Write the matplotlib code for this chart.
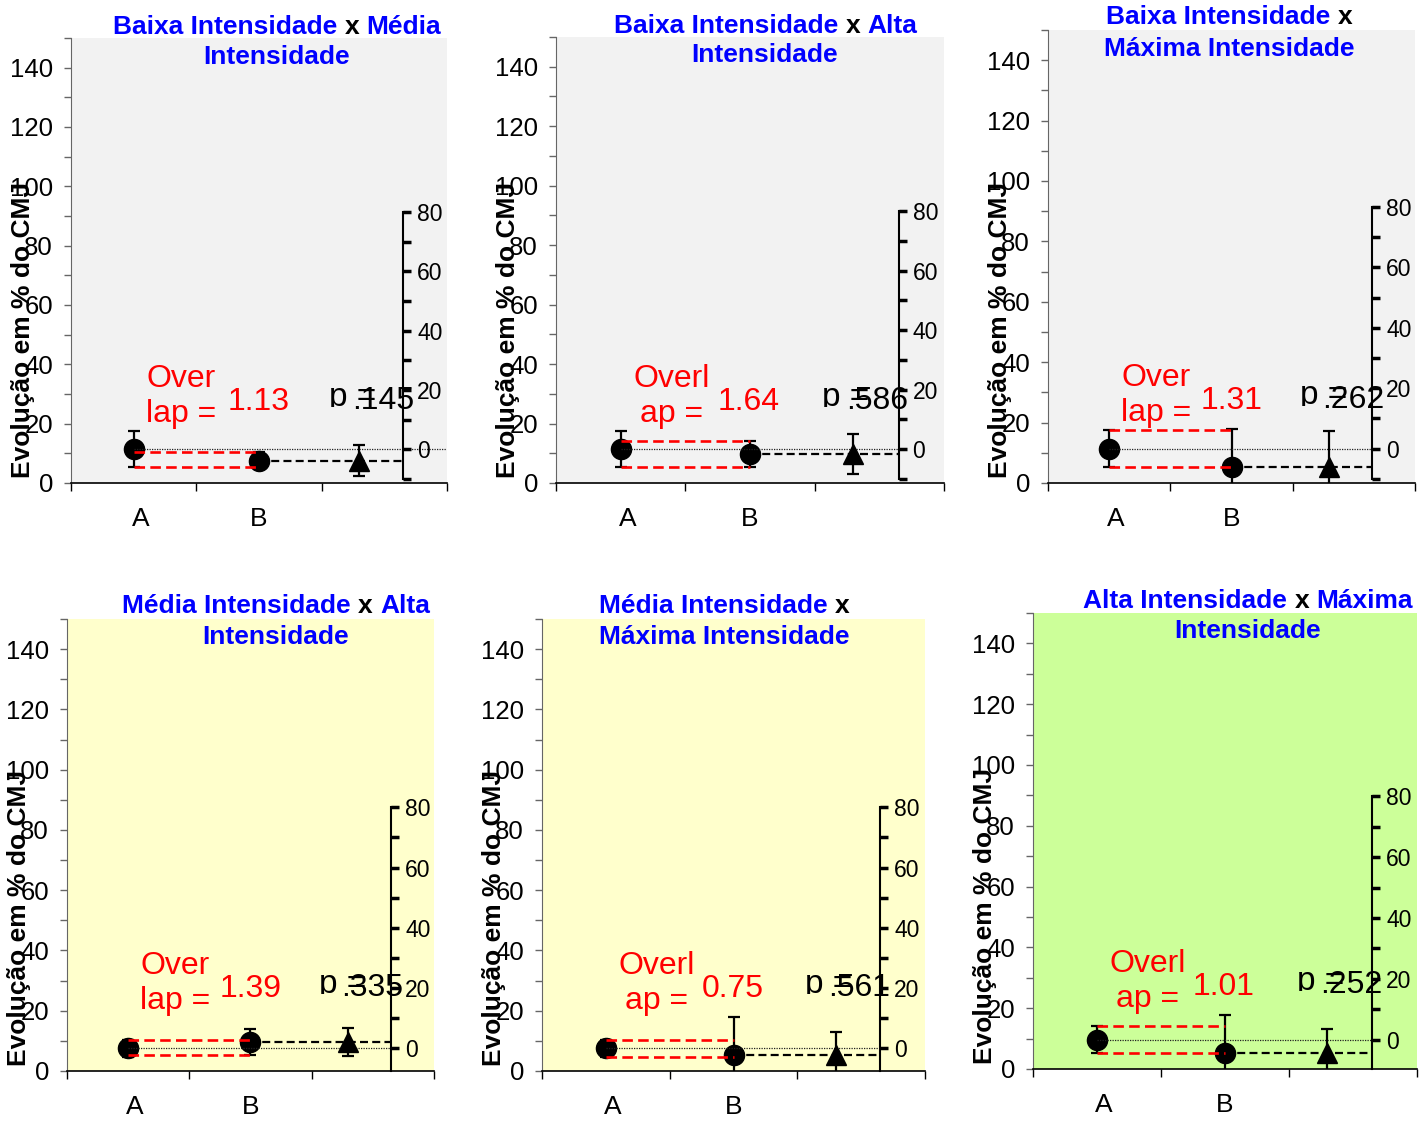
import matplotlib
matplotlib.use("Agg")
import matplotlib.pyplot as plt
from matplotlib.ticker import MultipleLocator, FixedLocator
from matplotlib.transforms import Bbox, TransformedBbox
from matplotlib.font_manager import FontProperties

plt.rcParams['font.family'] = ['Liberation Sans', 'DejaVu Sans']

# valores (media e meia-largura do IC)
a_mean = [11.4, 11.4, 11.4, 7.5, 7.5, 9.7]
a_ci = [6.1, 6.1, 6.1, 2.9, 2.9, 4.3]
b_mean = [7.5, 9.7, 5.3, 9.7, 5.3, 5.3]
b_ci = [2.9, 4.3, 12.5, 4.3, 12.5, 12.5]
diff_mean = [-3.9, -1.7, -6.1, 2.2, -2.2, -4.4]
diff_ci = [5.3, 6.7, 11.8, 4.7, 7.8, 8.0]

overlap_txt = ["Over\nlap =", "Overl\nap =", "Over\nlap =",
               "Over\nlap =", "Overl\nap =", "Overl\nap ="]
overlap_val = ["1.13", "1.64", "1.31", "1.39", "0.75", "1.01"]
p_val = [".145", ".586", ".262", ".335", ".561", ".252"]

categories = ["A", "B"]
left_ticks = [0, 20, 40, 60, 80, 100, 120, 140]
diff_ticks = [0, 20, 40, 60, 80]
diff_minor = [-10, 10, 30, 50, 70]

BLUE = '#0000FF'
titles = [
    [[("Baixa Intensidade", BLUE), (" x ", 'black'), ("Média", BLUE)], [("Intensidade", BLUE)]],
    [[("Baixa Intensidade", BLUE), (" x ", 'black'), ("Alta", BLUE)], [("Intensidade", BLUE)]],
    [[("Baixa Intensidade", BLUE), (" x", 'black')], [("Máxima Intensidade", BLUE)]],
    [[("Média Intensidade", BLUE), (" x ", 'black'), ("Alta", BLUE)], [("Intensidade", BLUE)]],
    [[("Média Intensidade", BLUE), (" x", 'black')], [("Máxima Intensidade", BLUE)]],
    [[("Alta Intensidade", BLUE), (" x ", 'black'), ("Máxima", BLUE)], [("Intensidade", BLUE)]],
]

# layout em pixels: (esq, topo, dir, base)
boxes = [(71, 38, 447, 483), (556, 37, 944, 483), (1048, 30, 1415, 483),
         (67, 619, 434, 1071), (542, 619, 925, 1071), (1033, 613, 1417, 1069)]
title_pos = [(277, 25, 54.5), (765, 23.5, 53), (1229, 15, 46),
             (275.5, 603.5, 634.5), (724, 603.5, 634.5), (1248, 598, 628)]
bg = ['#F2F2F2', '#F2F2F2', '#F2F2F2', '#FFFFCC', '#FFFFCC', '#CCFF99']
dotted_end = [3.0, 2.65, 2.65, 2.65, 2.65, 2.65]
X2 = 2.65

W, H = 1428, 1123
fig = plt.figure(figsize=(W / 100, H / 100), dpi=100)
renderer = fig.canvas.get_renderer()
tprop = FontProperties(family=['Liberation Sans'], size=19, weight='bold')


def text_w(s):
    w1 = renderer.get_text_width_height_descent('|' + s + '|', tprop, ismath=False)[0]
    w0 = renderer.get_text_width_height_descent('||', tprop, ismath=False)[0]
    return w1 - w0


def draw_title_line(cx, cy, pieces):
    full = ''.join(p for p, c in pieces)
    x0 = cx - text_w(full.strip()) / 2
    pos = 0
    for s, c in pieces:
        lead = len(s) - len(s.lstrip())
        x = x0 + (text_w(full[:pos + lead]) if pos + lead > 0 else 0)
        fig.text(x / W, 1 - (cy + 9.5) / H, s.strip(), color=c,
                 fontproperties=tprop, ha='left', va='baseline')
        pos += len(s)


for i in range(6):
    l, t, r, b = boxes[i]
    ax = fig.add_axes([l / W, 1 - b / H, (r - l) / W, (b - t) / H])
    ax.set_facecolor(bg[i])
    ax.set_xlim(0, 3)
    ax.set_ylim(0, 150)
    ax.spines['top'].set_visible(False)
    ax.spines['right'].set_visible(False)
    ax.spines['left'].set_color('#666666')
    ax.spines['bottom'].set_color('black')
    ax.spines['bottom'].set_linewidth(1.2)

    ax.set_yticks(left_ticks)
    ax.yaxis.set_minor_locator(MultipleLocator(10))
    ax.tick_params(axis='y', which='both', direction='out', length=5, width=1,
                   color='#666666', labelsize=18.5, pad=8)
    ax.set_xticks([0.555, 1.5])
    ax.set_xticklabels(categories)
    ax.set_xticks([0, 1, 2, 3], minor=True)
    ax.tick_params(axis='x', which='major', length=0, labelsize=19, pad=17)
    ax.tick_params(axis='x', which='minor', direction='out', length=6, width=1, color='black')

    a, b_ = a_mean[i], b_mean[i]
    lo = max(a - a_ci[i], b_ - b_ci[i])
    hi = min(a + a_ci[i], b_ + b_ci[i])

    ax.plot([1.5, X2], [b_, b_], color='black', lw=1.6, dashes=(3.6, 1.9), zorder=2)
    ax.errorbar([0.5, 1.5], [a, b_], yerr=[a_ci[i], b_ci[i]], fmt='o', color='black',
                ms=14.5, capsize=4, elinewidth=1.6, capthick=1.6, zorder=3)
    ax.plot([0.5, dotted_end[i]], [a, a], color='#222222', lw=0.9,
            ls=(0, (1, 1)), zorder=4)
    ax.plot([0.5, 1.5], [lo, lo], color='red', lw=1.9, dashes=(4, 2), zorder=5)
    ax.plot([0.5, 1.5], [hi, hi], color='red', lw=1.9, dashes=(4, 2), zorder=5)

    ax.text(0.6, 20.5, overlap_txt[i], color='red', fontsize=23,
            multialignment='center', va='baseline', linespacing=1.22)
    ax.text(1.25, 24.5, overlap_val[i], color='red', fontsize=23, va='baseline')
    pt = ax.text(2.06, 26, 'p =', fontsize=24, va='baseline', clip_on=True)
    pt.set_clip_box(TransformedBbox(Bbox([[1.9, 25.5], [2.7, 60]]), ax.transData))
    ax.text(2.24, 25, p_val[i], fontsize=23, va='baseline')

    # eixo da diferenca
    ax2 = ax.twinx()
    ax2.set_ylim(-a, 150 - a)
    for s in ['top', 'left', 'bottom']:
        ax2.spines[s].set_visible(False)
    ax2.spines['right'].set_position(('data', X2))
    ax2.spines['right'].set_bounds(max(-10, -a), 80)
    ax2.spines['right'].set_linewidth(1.5)
    ax2.set_yticks(diff_ticks)
    ax2.yaxis.set_minor_locator(FixedLocator(diff_minor))
    ax2.tick_params(axis='y', which='both', direction='out', length=5.5, width=2.5,
                    color='black', labelsize=16.5, pad=4.5)
    ax2.errorbar([2.3], [diff_mean[i]], yerr=[diff_ci[i]], fmt='^', color='black',
                 ms=14.5, capsize=4, elinewidth=1.6, capthick=1.6, zorder=3)

    fig.text((l - 48) / W, 1 - (b - 153) / H, 'Evolução em % do CMJ', rotation=90,
             fontsize=19, fontweight='bold', ha='center', va='center')

    cx, y1, y2 = title_pos[i]
    draw_title_line(cx, y1, titles[i][0])
    draw_title_line(cx, y2, titles[i][1])

fig.savefig('out.png', dpi=100)
